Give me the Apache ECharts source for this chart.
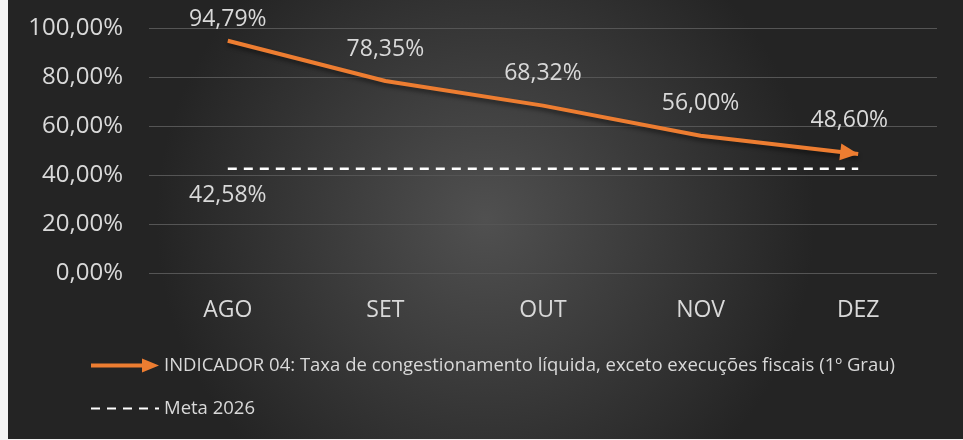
<!DOCTYPE html>
<html>
<head>
<meta charset="utf-8">
<script src="https://cdn.jsdelivr.net/npm/echarts@6/dist/echarts.min.js"></script>
<style>
  html, body { margin: 0; padding: 0; background: #f4f4f4; }
  #chart { position: absolute; left: 8px; top: 0; width: 955px; height: 439px; }
</style>
</head>
<body>
<div id="chart"></div>
<script>
// dados do gráfico
var meses = ["AGO", "SET", "OUT", "NOV", "DEZ"];
var taxa = [94.79, 78.35, 68.32, 56.00, 48.60];
var meta = [42.58, 42.58, 42.58, 42.58, 42.58];
var yTicks = [0, 20, 40, 60, 80, 100];

var nomeTaxa = "INDICADOR 04: Taxa de congestionamento líquida, exceto execuções fiscais (1º Grau)";
var nomeMeta = "Meta 2026";

var fonte = "Open Sans";
var corTexto = "#d9d9d9";
var laranja = "#ed7d31";

function pct(v) {
  return v.toFixed(2).replace(".", ",") + "%";
}

var myChart = echarts.init(document.getElementById("chart"));

var last = taxa.length - 1;
var seta = [17, 18];
var taxaData = taxa.map(function (v, i) {
  return {
    value: v,
    symbol: i === last ? "triangle" : "circle",
    symbolSize: i === last ? seta : 1,
    itemStyle: { color: i === last ? laranja : "rgba(0,0,0,0)" },
    label: { distance: i === 0 ? 9 : (i === last ? 11 : 20) }
  };
});

var option = {
  backgroundColor: {
    type: "radial", x: 0.5, y: 0.5, r: 0.75,
    colorStops: [
      { offset: 0, color: "#505050" },
      { offset: 1, color: "#242424" }
    ]
  },
  animation: false,
  grid: { left: 141, right: 26, top: 28, bottom: 166 },
  xAxis: {
    type: "category",
    data: meses,
    axisLine: { show: false },
    axisTick: { show: false },
    axisLabel: { color: corTexto, fontFamily: fonte, fontSize: 23, margin: 26 }
  },
  yAxis: {
    type: "value",
    min: yTicks[0],
    max: yTicks[yTicks.length - 1],
    interval: 20,
    axisLabel: {
      color: corTexto, fontFamily: fonte, fontSize: 24, margin: 26,
      formatter: pct
    },
    splitLine: { lineStyle: { color: "#555555", width: 1 } }
  },
  legend: {
    orient: "vertical",
    left: 77,
    top: 351,
    itemWidth: 68,
    itemHeight: 14,
    itemGap: 24,
    textStyle: { color: corTexto, fontFamily: fonte, fontSize: 18.5, lineHeight: 18 },
    data: [
      { name: nomeTaxa, icon: "path://M0,5L51,5L51,0L68,7L51,14L51,9L0,9Z" },
      { name: nomeMeta, itemStyle: { opacity: 0 } }
    ]
  },
  series: [
    {
      name: nomeTaxa,
      type: "line",
      data: taxaData,
      z: 3,
      lineStyle: {
        color: laranja, width: 4,
        shadowColor: "rgba(0,0,0,0.45)", shadowBlur: 4, shadowOffsetY: 3
      },
      itemStyle: { color: laranja },
      label: {
        show: true,
        position: "top",
        color: corTexto, fontFamily: fonte, fontSize: 23,
        formatter: function (p) { return pct(p.value); }
      }
    },
    {
      name: nomeMeta,
      type: "line",
      data: meta,
      symbol: "none",
      z: 2,
      itemStyle: { color: "#ffffff" },
      lineStyle: { color: "#ffffff", width: 2.5, type: [9, 7] },
      markPoint: {
        symbol: "circle",
        symbolSize: 0,
        data: [{ coord: [0, meta[0]], value: meta[0] }],
        label: {
          show: true,
          position: "bottom",
          distance: 15,
          color: corTexto, fontFamily: fonte, fontSize: 23,
          formatter: function (p) { return pct(p.value); }
        }
      }
    }
  ]
};

myChart.setOption(option);

// gira a seta do último ponto na direção do segmento final
var p0 = myChart.convertToPixel({ seriesIndex: 0 }, [last - 1, taxa[last - 1]]);
var p1 = myChart.convertToPixel({ seriesIndex: 0 }, [last, taxa[last]]);
var ang = Math.atan2(p1[1] - p0[1], p1[0] - p0[0]);
var half = seta[1] / 2;
taxaData[last].symbolRotate = -90 - ang * 180 / Math.PI;
taxaData[last].symbolOffset = [-half * Math.cos(ang), -half * Math.sin(ang)];
myChart.setOption({ series: [{ data: taxaData }] });
</script>
</body>
</html>
